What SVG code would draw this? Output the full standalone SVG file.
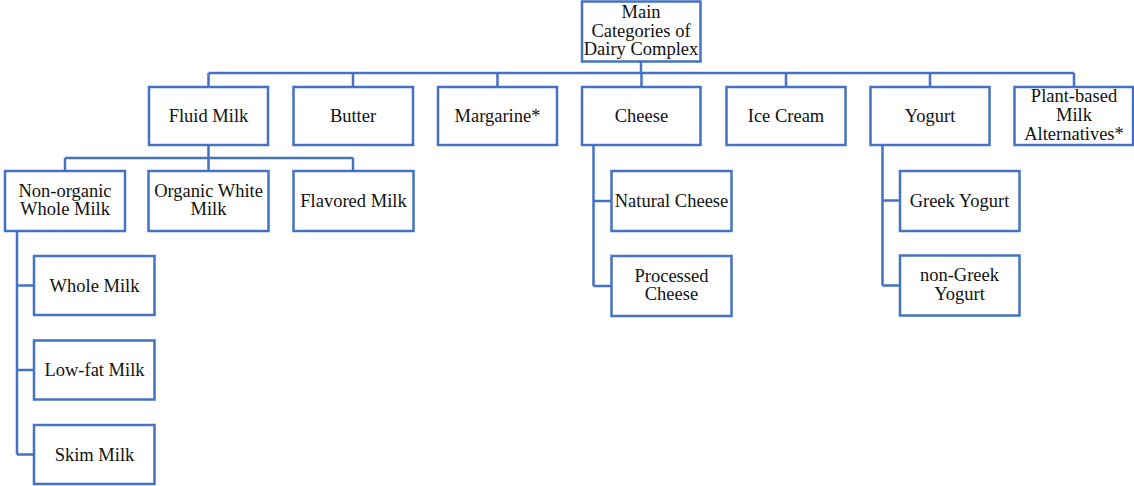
<svg xmlns="http://www.w3.org/2000/svg" width="1134" height="486" viewBox="0 0 1134 486">
<style>
.b{fill:#fff;stroke:#4472C4;stroke-width:2.5}
.c{fill:none;stroke:#4472C4;stroke-width:2.5}
text{font-family:"Liberation Serif","Times New Roman",serif;font-size:18.5px;fill:#111;text-anchor:middle}
</style>
<rect width="1134" height="486" fill="#fff"/>
<g id="connectors" class="c">
<path d="M641 61V73M208.5 73H1074M208.5 73V87M353 73V87M497.5 73V87M641.5 73V87M786 73V87M930 73V87M1074 73V87"/>
<path d="M208.5 145V158M65 158H353M65 158V171M208.5 158V171M353 158V171"/>
<path d="M17 231V454.5M17 285.5H34M17 370H34M17 454.5H34"/>
<path d="M593.5 145V286M593.5 201H611.5M593.5 286H611.5"/>
<path d="M882.5 145V285.5M882.5 200.5H900M882.5 285.5H900"/>
</g>
<g id="root"><rect class="b" x="582" y="1.5" width="118.5" height="60"/><text x="641" y="18">Main</text><text x="641" y="36.5">Categories of</text><text x="641" y="55">Dairy Complex</text></g>
<g id="fluid"><rect class="b" x="149" y="87" width="119" height="58"/><text x="208.5" y="122">Fluid Milk</text></g>
<g id="butter"><rect class="b" x="293.5" y="87" width="119.5" height="58"/><text x="353" y="122">Butter</text></g>
<g id="margarine"><rect class="b" x="438" y="87" width="119" height="58"/><text x="497.5" y="122">Margarine*</text></g>
<g id="cheese"><rect class="b" x="582" y="87" width="118.5" height="58"/><text x="641.5" y="122">Cheese</text></g>
<g id="icecream"><rect class="b" x="726.5" y="87" width="119" height="58"/><text x="786" y="122">Ice Cream</text></g>
<g id="yogurt"><rect class="b" x="870.5" y="87" width="119" height="58"/><text x="930" y="122">Yogurt</text></g>
<g id="plant"><rect class="b" x="1014.5" y="87" width="118.5" height="58"/><text x="1074" y="102">Plant-based</text><text x="1074" y="120.5">Milk</text><text x="1074" y="139.5">Alternatives*</text></g>
<g id="nonorganic"><rect class="b" x="5" y="171" width="120" height="60"/><text x="65" y="196.5">Non-organic</text><text x="65" y="215">Whole Milk</text></g>
<g id="organic"><rect class="b" x="148.5" y="171" width="120" height="60"/><text x="208.5" y="196.5">Organic White</text><text x="208.5" y="215">Milk</text></g>
<g id="flavored"><rect class="b" x="293.5" y="171" width="120" height="60"/><text x="353.5" y="207">Flavored Milk</text></g>
<g id="whole"><rect class="b" x="34" y="256" width="120.5" height="59"/><text x="94.5" y="291.5">Whole Milk</text></g>
<g id="lowfat"><rect class="b" x="34" y="340.5" width="120.5" height="59"/><text x="94.5" y="376">Low-fat Milk</text></g>
<g id="skim"><rect class="b" x="34" y="425" width="120.5" height="59"/><text x="94.5" y="460.5">Skim Milk</text></g>
<g id="natural"><rect class="b" x="611.5" y="171" width="120" height="60"/><text x="671.5" y="207">Natural Cheese</text></g>
<g id="processed"><rect class="b" x="611.5" y="256" width="120" height="60"/><text x="671.5" y="281.5">Processed</text><text x="671.5" y="300">Cheese</text></g>
<g id="greek"><rect class="b" x="900" y="171" width="119.5" height="60"/><text x="959.5" y="207">Greek Yogurt</text></g>
<g id="nongreek"><rect class="b" x="900" y="255.5" width="119.5" height="60"/><text x="959.5" y="281">non-Greek</text><text x="959.5" y="300">Yogurt</text></g>
</svg>
